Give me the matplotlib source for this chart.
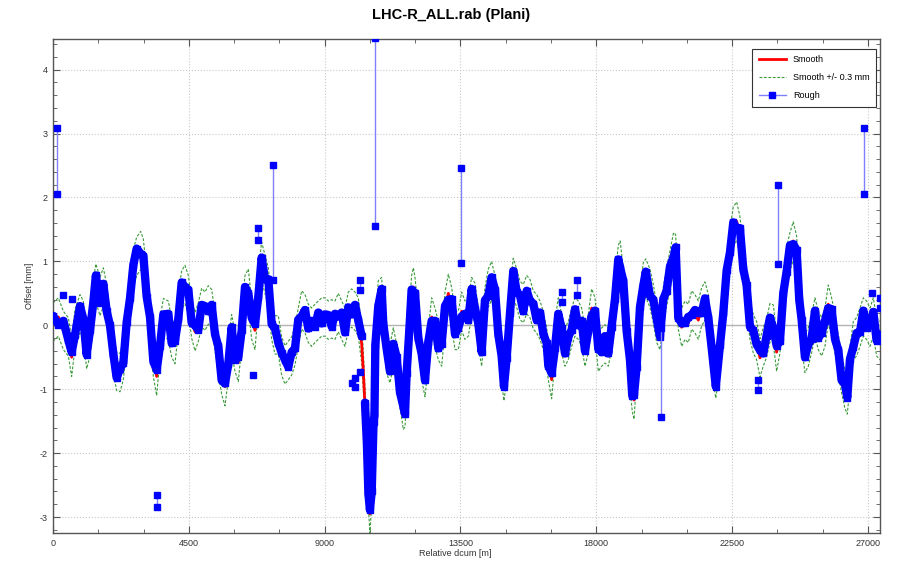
import numpy as np
import matplotlib
matplotlib.use('Agg')
import matplotlib.pyplot as plt
from matplotlib.lines import Line2D
from matplotlib.ticker import MultipleLocator

plt.rcParams['font.family'] = ['Liberation Sans', 'DejaVu Sans']
plt.rcParams['axes.unicode_minus'] = False

# smooth curve (dcum in m, offset in mm)
dcum = [0, 177, 343, 508, 618, 729, 894, 1005, 1115, 1226,
        1336, 1420, 1557, 1667, 1778, 1888, 1999, 2109, 2220, 2330,
        2441, 2551, 2661, 2772, 2905, 2993, 3103, 3214, 3324, 3435,
        3545, 3656, 3820, 3932, 4042, 4152, 4263, 4373, 4483, 4594,
        4705, 4815, 4925, 5036, 5146, 5257, 5367, 5477, 5588, 5698,
        5808, 5919, 6030, 6140, 6251, 6361, 6471, 6582, 6692, 6803,
        6913, 7024, 7134, 7245, 7355, 7465, 7576, 7686, 7796, 7907,
        8017, 8127, 8239, 8349, 8459, 8570, 8680, 8790, 8901, 9011,
        9121, 9233, 9343, 9452, 9564, 9674, 9784, 9895, 10005, 10115,
        10227, 10281, 10336, 10400, 10450, 10500, 10560, 10620, 10650, 10680,
        10777, 10889, 10944, 11055, 11165, 11275, 11387, 11496, 11607, 11662,
        11717, 11805, 11882, 11939, 11994, 12103, 12215, 12325, 12435, 12546,
        12656, 12766, 12877, 12988, 13098, 13208, 13318, 13430, 13540, 13649,
        13760, 13870, 13981, 14091, 14203, 14311, 14422, 14532, 14643, 14753,
        14864, 14941, 15031, 15141, 15250, 15363, 15472, 15581, 15694, 15803,
        15913, 16025, 16134, 16244, 16356, 16410, 16521, 16631, 16741, 16852,
        16963, 17072, 17184, 17294, 17404, 17516, 17625, 17735, 17847, 17957,
        18067, 18178, 18288, 18398, 18509, 18619, 18729, 18790, 18894, 19006,
        19116, 19192, 19250, 19337, 19447, 19557, 19640, 19779, 19889, 20000,
        20110, 20220, 20331, 20442, 20560, 20630, 20717, 20829, 20939, 21049,
        21160, 21270, 21380, 21491, 21601, 21711, 21822, 21960, 22098, 22208,
        22319, 22429, 22539, 22650, 22760, 22870, 22981, 23091, 23201, 23312,
        23423, 23532, 23643, 23753, 23864, 23975, 24085, 24195, 24306, 24416,
        24526, 24637, 24725, 24803, 24913, 25023, 25135, 25245, 25355, 25466,
        25576, 25686, 25797, 25908, 26018, 26128, 26239, 26316, 26405, 26515,
        26626, 26737, 26847, 26957, 27068, 27178, 27289, 27399]

smooth = [0.05, 0.13, -0.08, -0.18, -0.50, -0.05, 0.18, 0.08, -0.38, -0.18,
          0.42, 0.66, 0.45, 0.60, 0.34, -0.08, -0.45, -0.72, -0.74, -0.55,
          -0.05, 0.50, 0.88, 1.08, 1.17, 1.05, 0.55, 0.05, -0.50, -0.80,
          -0.20, 0.12, 0.08, -0.20, -0.30, 0.20, 0.55, 0.64, 0.48, 0.10,
          -0.10, 0.05, 0.28, 0.22, 0.32, 0.26, -0.10, -0.45, -0.78, -0.96,
          -0.55, -0.13, -0.42, -0.58, -0.03, 0.48, 0.58, 0.08, -0.08, 0.55,
          1.00, 0.80, 0.60, 0.08, -0.15, -0.15, -0.48, -0.62, -0.55, -0.48,
          -0.32, -0.03, 0.24, 0.18, 0.03, -0.03, 0.03, 0.08, 0.13, 0.13,
          0.08, 0.10, 0.08, 0.20, 0.08, -0.03, 0.22, 0.27, 0.22, 0.13,
          -0.29, -0.71, -1.25, -1.90, -2.55, -2.95, -2.50, -1.60, -1.37, -0.37,
          0.40, 0.45, 0.08, -0.45, -0.60, -0.34, -0.60, -0.97, -1.33, -1.29,
          -0.87, -0.03, 0.48, 0.60, 0.45, -0.08, -0.55, -0.82, -0.34, 0.13,
          -0.03, -0.24, -0.34, 0.22, 0.50, 0.29, -0.08, -0.08, 0.22, 0.08,
          0.13, 0.45, 0.36, -0.03, -0.34, 0.29, 0.58, 0.70, 0.48, -0.08,
          -0.60, -0.88, -0.55, 0.29, 0.75, 0.58, 0.39, 0.34, 0.48, 0.42,
          0.24, 0.18, 0.08, -0.08, -0.34, -0.55, -0.85, -0.24, 0.13, -0.13,
          -0.34, -0.24, -0.03, 0.13, 0.08, -0.03, -0.34, -0.13, 0.27, 0.13,
          -0.42, -0.34, -0.29, -0.34, -0.08, 0.45, 0.95, 1.02, 0.60, -0.03,
          -0.66, -1.05, -1.17, -0.55, 0.24, 0.68, 0.74, 0.58, 0.34, 0.03,
          -0.08, 0.29, 0.60, 0.87, 1.15, 1.12, 0.24, -0.03, 0.08, 0.03,
          0.24, 0.18, 0.08, 0.29, 0.38, 0.18, -0.45, -0.84, -0.39, 0.24,
          0.76, 1.22, 1.55, 1.63, 1.40, 0.92, 0.55, 0.08, -0.13, -0.24,
          -0.51, -0.34, -0.20, 0.04, 0.02, -0.42, -0.13, 0.44, 0.92, 1.15,
          1.32, 1.10, 0.50, -0.03, -0.44, -0.34, -0.13, 0.13, -0.08, -0.18,
          -0.03, 0.33, 0.13, -0.13, -0.44, -0.76, -1.00, -1.09, -0.65, -0.24,
          -0.18, -0.03, 0.13, 0.08, -0.03, 0.13, -0.18, -0.24]

# rough minus smooth at the same stations (nan = no rough reading)
rough_dev = [0.10, -0.12, 0.15, -0.05, 0.08, -0.10, 0.12, 0.02, -0.08, 0.10,
             -0.06, 0.12, -0.10, 0.05, -0.12, 0.08, 0.00, -0.10, 0.06, -0.04,
             0.10, -0.08, 0.06, 0.12, -0.05, 0.04, -0.10, 0.08, -0.06, 0.10,
             -0.12, 0.05, 0.10, -0.08, 0.06, -0.10, 0.12, -0.04, 0.08, -0.06,
             0.10, -0.12, 0.04, 0.08, -0.10, 0.06, -0.04, 0.12, -0.08, 0.05,
             -0.06, 0.10, -0.12, 0.08, -0.05, 0.12, -0.08, 0.04, 0.10, -0.10,
             0.06, -0.08, 0.12, -0.06, 0.10, -0.12, 0.05, 0.08, -0.10, 0.06,
             -0.04, 0.12, -0.10, 0.06, -0.08, 0.10, -0.05, 0.12, -0.10, 0.04,
             0.08, -0.12, 0.10, -0.06, 0.12, -0.08, 0.06, -0.10, 0.10, -0.05,
             0.12, np.nan, 0.04, 0.05, -0.08, 0.06, -0.10, 0.08, -0.04, 0.06,
             -0.10, 0.12, -0.06, 0.08, -0.12, 0.05, 0.10, -0.08, 0.06, -0.10,
             0.12, -0.05, 0.08, -0.10, 0.06, -0.12, 0.10, -0.04, 0.08, -0.06,
             0.10, -0.12, 0.05, 0.08, -0.10, 0.12, -0.06, 0.04, -0.08, 0.10,
             -0.05, 0.12, -0.10, 0.06, -0.08, 0.10, -0.12, 0.05, 0.08, -0.06,
             0.12, -0.08, 0.04, -0.10, 0.10, -0.06, 0.08, -0.12, 0.06, -0.04,
             0.10, -0.10, 0.12, -0.05, 0.06, -0.08, 0.10, -0.12, 0.05, 0.08,
             -0.10, 0.06, -0.04, 0.12, -0.08, 0.10, -0.06, 0.04, -0.12, 0.10,
             0.05, -0.08, 0.12, -0.10, 0.06, -0.04, 0.08, -0.12, 0.10, -0.06,
             0.12, -0.05, 0.08, -0.10, 0.04, -0.06, 0.10, -0.12, 0.06, 0.08,
             -0.10, 0.12, -0.06, 0.05, -0.08, 0.10, -0.12, 0.06, -0.04, 0.10,
             -0.08, 0.06, 0.12, -0.10, 0.04, -0.06, 0.10, -0.12, 0.08, -0.05,
             0.10, -0.08, 0.06, -0.12, 0.12, -0.04, 0.08, -0.10, 0.05, -0.06,
             0.12, -0.10, 0.04, 0.08, -0.06, 0.10, -0.12, 0.06, -0.08, 0.10,
             -0.05, 0.08, -0.10, 0.12, -0.06, 0.04, -0.08, 0.10, -0.12, 0.06,
             0.10, -0.06, 0.12, -0.08, 0.05, -0.10, 0.08, -0.04, 0.12, -0.10,
             0.06, -0.08, 0.10, -0.12, 0.05, 0.08, -0.06, 0.10]

# rough outliers drawn as pairs (upper, lower reading at one station)
spike_dcum = [130, 26870, 7290, 10670, 13520, 24020, 3450, 20140,
              16853, 17350, 23367, 10005, 10171, 27400, 6802]
spike_hi = [3.09, 3.09, 2.51, 4.50, 2.46, 2.20, -2.65, -0.05,
            0.52, 0.71, -0.86, -0.83, 0.71, 0.42, 1.52]
spike_lo = [2.05, 2.05, 0.71, 1.55, 0.98, 0.96, -2.84, -1.44,
            0.37, 0.48, -1.02, -0.97, 0.55, 0.27, 1.34]

stray_dcum = [341, 640, 6636, 10171, 27124, 9906]
stray_val = [0.47, 0.41, -0.78, -0.73, 0.50, -0.91]

smooth = np.array(smooth)
rough = smooth + np.array(rough_dev)

fig = plt.figure(figsize=(8.97, 5.63), dpi=100)
ax = fig.add_axes([53 / 897, 1 - 533 / 563, 827 / 897, 494 / 563])

ax.axhline(0, color='#b4b4b4', lw=1, zorder=1)
ax.plot(dcum, smooth + 0.3, color='#3a9a3a', lw=0.8, ls=(0, (2.5, 1.5)), zorder=2)
ax.plot(dcum, smooth - 0.3, color='#3a9a3a', lw=0.8, ls=(0, (2.5, 1.5)), zorder=2)
ax.plot(dcum, smooth, color='#ff0000', lw=2, zorder=3)

# dense rough band
ax.plot(dcum, rough, color='#0000ff', lw=6, solid_joinstyle='round',
        solid_capstyle='round', zorder=4)
ax.plot(dcum, rough, ls='none', marker='s', ms=5, color='#0000ff', zorder=5)
for d, a, b in zip(spike_dcum, spike_hi, spike_lo):
    ax.plot([d, d], [a, b], color='#8080ff', lw=1, marker='s', ms=4,
            mfc='#0000ff', mec='#0000ff', zorder=5)
ax.plot(stray_dcum, stray_val, ls='none', marker='s', ms=4, color='#0000ff', zorder=5)

ax.set_xlim(0, 27400)
ax.set_ylim(-3.25, 4.48)
ax.xaxis.set_major_locator(MultipleLocator(4500))
ax.xaxis.set_minor_locator(MultipleLocator(1500))
ax.yaxis.set_major_locator(MultipleLocator(1))
ax.yaxis.set_minor_locator(MultipleLocator(0.2))
ax.grid(True, which='major', ls=':', color='#c8c8c8', lw=0.8)
ax.set_axisbelow(True)
ax.tick_params(which='both', direction='in', top=True, right=True,
               colors='#555555', labelcolor='#333333', labelsize=6.5)
ax.tick_params(which='major', length=5, pad=4)
ax.tick_params(which='minor', length=3)
for s in ax.spines.values():
    s.set_color('#555555')
    s.set_linewidth(1)

handles = [Line2D([], [], color='#ff0000', lw=2),
           Line2D([], [], color='#3a9a3a', lw=0.8, ls=(0, (2.5, 1.5))),
           Line2D([], [], color='#8080ff', lw=1, marker='s', ms=4,
                  mfc='#0000ff', mec='#0000ff')]
leg = ax.legend(handles, ['Smooth', 'Smooth +/- 0.3 mm', 'Rough'],
                loc='upper right', bbox_to_anchor=(0.995, 0.98), borderaxespad=0,
                fontsize=6.5, fancybox=False, framealpha=1, edgecolor='#333333',
                handlelength=3.0, labelspacing=1.0, borderpad=0.7)
leg.get_frame().set_linewidth(0.8)

fig.text(451 / 897, 1 - 15 / 563, 'LHC-R_ALL.rab (Plani)', ha='center', va='center',
         fontsize=10.5, fontweight='bold',
         family=['Liberation Sans Narrow', 'Liberation Sans', 'DejaVu Sans'])
fig.text(30 / 897, 1 - 286 / 563, 'Offset [mm]', rotation=90, ha='center',
         va='center', fontsize=6.5, color='#333333')
fig.text(455 / 897, 1 - 554 / 563, 'Relative dcum [m]', ha='center', va='center',
         fontsize=6.5, color='#333333')

fig.savefig('out.png', dpi=100)
